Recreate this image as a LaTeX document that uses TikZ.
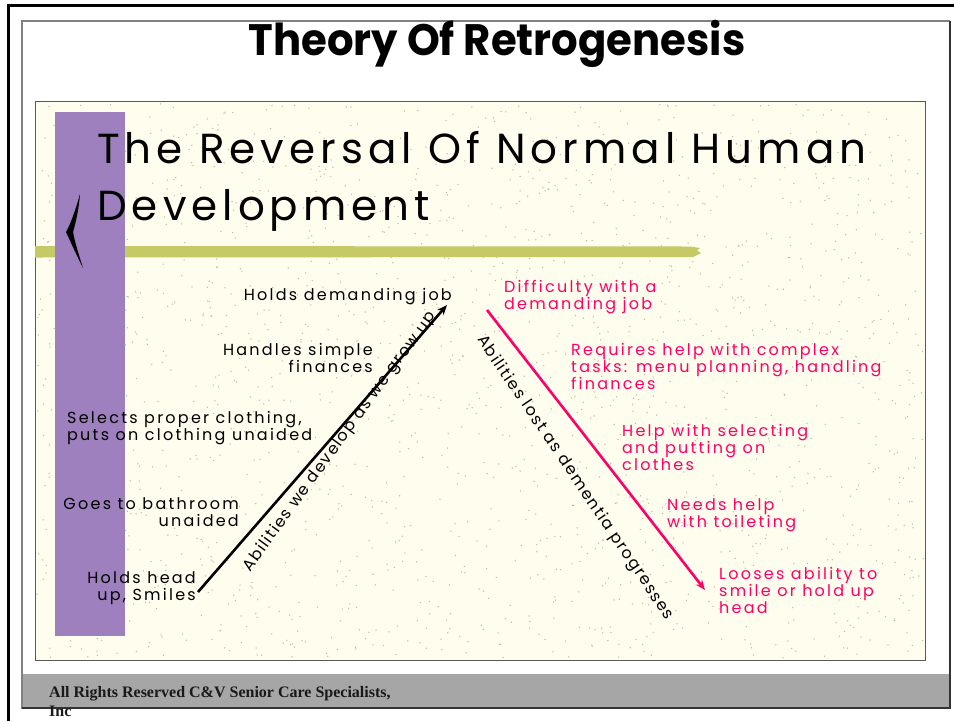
\documentclass[tikz,border=0pt]{standalone}
\usepackage{fontspec}
\setmainfont{Liberation Serif}
\newfontfamily\comicfont{Poppins}[LetterSpace=14]
\newfontfamily\comicplain{Poppins}[LetterSpace=9]
\newfontfamily\subfont{Poppins}[LetterSpace=12]
\newfontfamily\headfont{Poppins}
\usetikzlibrary{arrows.meta}
\definecolor{panelbg}{RGB}{255,253,238}
\definecolor{speck}{RGB}{188,188,168}
\definecolor{barpurple}{RGB}{158,128,190}
\definecolor{bargreen}{RGB}{197,201,102}
\definecolor{hotpink}{RGB}{255,0,102}
\definecolor{footgray}{RGB}{166,166,166}
\tikzset{
  lbl/.style={font=\comicfont\fontsize{16}{17}\selectfont, inner sep=0pt, text=black},
  pinklbl/.style={lbl, text=hotpink, align=left, anchor=north west},
  leftlbl/.style={lbl, align=right, anchor=north east},
  rotlbl/.style={font=\comicplain\fontsize{16}{17}\selectfont, inner sep=0pt},
  arr/.style={line width=2.6pt, -{Stealth[length=10pt,width=8pt]}},
  footlbl/.style={font=\bfseries\fontsize{16}{19}\selectfont, text=black!90, inner sep=0pt, align=left, anchor=north west},
}
\begin{document}
\begin{tikzpicture}[x=1pt,y=-1pt]
\useasboundingbox (0,0) rectangle (954,721);
\fill[white] (0,0) rectangle (954,721);
% frames
\draw[line width=3pt] (8,721) -- (8,5) -- (954,5);
\fill[footgray] (22,674) rectangle (950,708);
\draw[gray, line width=1.2pt] (950,708) -- (22,708) -- (22,21) -- (950,21);
\draw[black!80, line width=1.4pt] (950,21) -- (950,708) -- (22,708);
% title
\node[font=\headfont\bfseries\fontsize{44}{50}\selectfont, inner sep=0pt] (title) at (497,44) {\scalebox{0.95}[1]{Theory Of Retrogenesis}};
% panel
\fill[panelbg] (35,101) rectangle (925,660);
\pgfmathsetseed{42}
\foreach \k in {1,...,1800}{
  \pgfmathsetmacro\sx{37+886*rnd}
  \pgfmathsetmacro\sy{103+555*rnd}
  \fill[speck] (\sx,\sy) circle (0.75);
}
\draw[black!65, line width=1pt] (35,101) rectangle (925,660);
\fill[bargreen] (35,246) -- (690,246.5) -- (700,248) -- (697,250.5) -- (701,253) -- (693,257) -- (35,257.5) -- cycle;
\fill[barpurple] (55,112) rectangle (125,636);
\fill[black] (80,194) .. controls (75,212) and (70,225) .. (66,232)
  .. controls (72,245) and (78,258) .. (83,268)
  .. controls (79,255) and (75,243) .. (73,232)
  .. controls (76,222) and (79,208) .. (80,194) -- cycle;
\node[font=\subfont\fontsize{42}{57}\selectfont, inner sep=0pt, align=left, anchor=north west] (subtitle) at (97,131) {The Reversal Of Normal Human\\Development};
% left labels
\node[leftlbl] (jobup) at (452,288) {Holds demanding job};
\node[leftlbl] (finup) at (373,343) {Handles simple\\finances};
\node[lbl, align=left, anchor=north west] (clothup) at (67,411) {Selects proper clothing,\\puts on clothing unaided};
\node[leftlbl] (bathup) at (239,497) {Goes to bathroom\\unaided};
\node[leftlbl] (headup) at (196,571) {Holds head\\up, Smiles};
% right labels
\node[pinklbl] (diffjob) at (504,280) {Difficulty with a\\demanding job};
\node[pinklbl] (complex) at (571,343) {Requires help with complex\\tasks: menu planning, handling\\finances};
\node[pinklbl] (clothdown) at (622,424) {Help with selecting\\and putting on\\clothes};
\node[pinklbl] (toilet) at (667,498) {Needs help\\with toileting};
\node[pinklbl] (headdown) at (719,567) {Looses ability to\\smile or hold up\\head};
% arrows
\coordinate (upS) at (198,592);
\coordinate (upE) at (447,305);
\coordinate (dnS) at (487,310);
\coordinate (dnE) at (705,590);
\draw[arr] (upS) -- (upE);
\draw[arr, hotpink] (dnS) -- (dnE);
\node[rotlbl, rotate=54] (uplabel) at (340,442) {Abilities we develop as we grow up};
\node[rotlbl, rotate=-56] (downlabel) at (575,478) {Abilities lost as dementia progresses};
% footer
\node[footlbl] (foot) at (49,686) {All Rights Reserved C\&V Senior Care Specialists,\\Inc};
\end{tikzpicture}
\end{document}
